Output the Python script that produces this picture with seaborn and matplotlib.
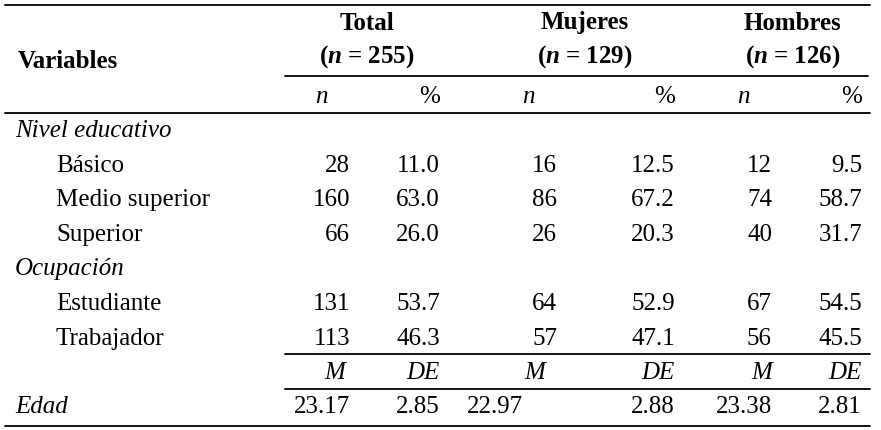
import matplotlib.pyplot as plt
import seaborn as sns

# Table data
groups = ['Total', 'Mujeres', 'Hombres']
group_n = [255, 129, 126]
sections = ['Nivel educativo', 'Ocupación']
rows = [['Básico', 'Medio superior', 'Superior'], ['Estudiante', 'Trabajador']]
counts = [[[28, 16, 12], [160, 86, 74], [66, 26, 40]],
          [[131, 64, 67], [113, 57, 56]]]
pcts = [[[11.0, 12.5, 9.5], [63.0, 67.2, 58.7], [26.0, 20.3, 31.7]],
        [[53.7, 52.9, 54.5], [46.3, 47.1, 45.5]]]
edad_m = [23.17, 22.97, 23.38]
edad_de = [2.85, 2.88, 2.81]

sns.set_theme(style='white', font='serif')
plt.rcParams['font.serif'] = ['Liberation Serif', 'Times New Roman', 'DejaVu Serif']
plt.rcParams['font.family'] = 'serif'
plt.rcParams['mathtext.fontset'] = 'custom'
plt.rcParams['mathtext.rm'] = 'Liberation Serif'
plt.rcParams['mathtext.it'] = 'Liberation Serif:italic'
plt.rcParams['mathtext.bf'] = 'Liberation Serif:bold'
plt.rcParams['mathtext.bfit'] = 'Liberation Serif:italic:bold'
plt.rcParams['text.color'] = 'black'
fs = 18

fig = plt.figure(figsize=(8.81, 4.30), dpi=100)
ax = fig.add_axes([0, 0, 1, 1])
ax.set_xlim(0, 881)
ax.set_ylim(430, 0)
ax.axis('off')

n_x = [350, 557, 772]
p_x = [440, 675, 862]
g_cx = [367, 585, 793]

def hline(y, x0, x1):
    ax.plot([x0, x1], [y, y], color='black', lw=1.3)

hline(5, 5, 870)
hline(76, 285, 868)
hline(113, 5, 870)
hline(354, 285, 870)
hline(389, 285, 870)
hline(426, 5, 870)

ax.text(18, 61, 'Variables', fontsize=fs, fontweight='bold', va='center')
for g, n, cx in zip(groups, group_n, g_cx):
    ax.text(cx, 23, g, fontsize=fs, fontweight='bold', ha='center', va='center')
    ax.text(cx, 57, f'($\\mathbfit{{n}}$ = {n})', fontsize=fs, fontweight='bold',
            ha='center', va='center')
for nx, px in zip(n_x, p_x):
    ax.text(nx - 22, 97, 'n', fontsize=fs, style='italic', ha='right', va='center')
    ax.text(px, 97, '%', fontsize=fs, ha='right', va='center')

y = 131
for sec, labels, cs, ps in zip(sections, rows, counts, pcts):
    ax.text(15, y, sec, fontsize=fs, style='italic', va='center')
    y += 34.6
    for lab, c, p in zip(labels, cs, ps):
        ax.text(56, y, lab, fontsize=fs, va='center')
        for i in range(3):
            ax.text(n_x[i], y, str(c[i]), fontsize=fs, ha='right', va='center')
            ax.text(p_x[i], y, f'{p[i]:.1f}', fontsize=fs, ha='right', va='center')
        y += 34.6

m_lab_x = [345, 545, 772]
for mx, px in zip(m_lab_x, p_x):
    ax.text(mx, 373, 'M', fontsize=fs, style='italic', ha='right', va='center')
    ax.text(px, 373, 'DE', fontsize=fs, style='italic', ha='right', va='center')

m_val_x = [350, 523, 772]
ax.text(15, 407, 'Edad', fontsize=fs, style='italic', va='center')
for mx, px, m, d in zip(m_val_x, p_x, edad_m, edad_de):
    ax.text(mx, 407, f'{m:.2f}', fontsize=fs, ha='right', va='center')
    ax.text(px, 407, f'{d:.2f}', fontsize=fs, ha='right', va='center')

fig.savefig('out.png', dpi=100, facecolor='white')
